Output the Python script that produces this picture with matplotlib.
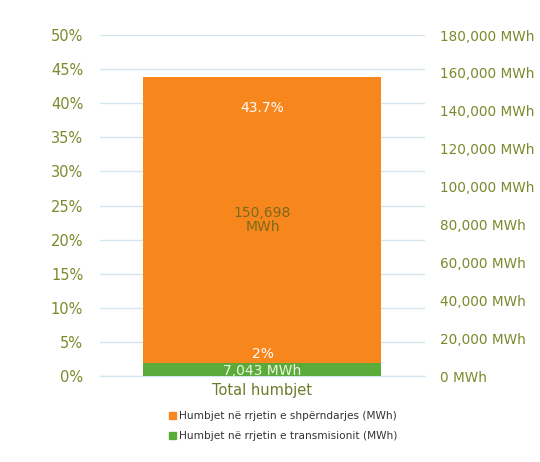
import matplotlib.pyplot as plt
from matplotlib.patches import Patch

category = "Total humbjet"
series_names = ["Humbjet në rrjetin e shpërndarjes (MWh)",
                "Humbjet në rrjetin e transmisionit (MWh)"]
distribution_mwh = 150698
transmission_mwh = 7043
total_pct = 43.7
transmission_pct = 2

pct_ticks = [0, 5, 10, 15, 20, 25, 30, 35, 40, 45, 50]
mwh_ticks = [0, 20000, 40000, 60000, 80000, 100000, 120000, 140000, 160000, 180000]

orange = "#f7861d"
green = "#5aab3a"
olive = "#7a8a2c"

plt.rcParams['font.family'] = ['DejaVu Sans']
fig = plt.figure(figsize=(5.4, 4.62), dpi=100)
ax = fig.add_axes([0.185, 0.186, 0.602, 0.738])
ax2 = ax.twinx()

# percent axis (left)
ax.set_ylim(0, 50)
ax.set_yticks(pct_ticks)
ax.set_yticklabels([f"{t}%" for t in pct_ticks])
ax.set_xlim(-0.5, 0.5)
ax.set_xticks([0])
ax.set_xticklabels([category])

# MWh axis (right) carries the bars
ax2.set_ylim(0, 180000)
ax2.set_yticks(mwh_ticks)
ax2.set_yticklabels([f"{t:,} MWh" for t in mwh_ticks])

for a in (ax, ax2):
    for s in a.spines.values():
        s.set_visible(False)
    a.tick_params(length=0, colors=olive)
ax.tick_params(axis='y', pad=12, labelsize=10.5)
ax2.tick_params(axis='y', pad=11, labelsize=9.8)
ax.tick_params(axis='x', pad=5, labelsize=10.5, colors="#6f7a2a")

ax.grid(axis='y', color="#d6e6ee", linewidth=1)
ax.axhline(0, color="#d6e6ee", linewidth=1, clip_on=False, zorder=0.5)
ax.set_axisbelow(True)

w = 0.732
ax2.bar(0, transmission_mwh, width=w, color=green)
ax2.bar(0, distribution_mwh, width=w, bottom=transmission_mwh, color=orange)

top = transmission_mwh + distribution_mwh
ax2.text(0, top - 16000, f"{total_pct}%", ha='center', va='center',
         color="white", fontsize=10)
ax2.text(0, transmission_mwh + distribution_mwh / 2, f"{distribution_mwh:,}\nMWh",
         ha='center', va='center', color="#7d6a1a", fontsize=10, linespacing=1.0)
ax2.text(0, transmission_mwh + 4500, f"{transmission_pct}%", ha='center',
         va='center', color="white", fontsize=10)
ax2.text(0, transmission_mwh / 2 - 600, f"{transmission_mwh:,} MWh", ha='center',
         va='center', color="#eef5e0", fontsize=10)

handles = [Patch(color=orange), Patch(color=green)]
fig.legend(handles, series_names, loc='upper left', bbox_to_anchor=(0.303, 0.122),
           frameon=False, fontsize=7.6, handlelength=0.7, handleheight=0.7,
           handletextpad=0.3, labelspacing=0.95, borderpad=0, labelcolor="#333333")

fig.savefig("out.png", dpi=100)
